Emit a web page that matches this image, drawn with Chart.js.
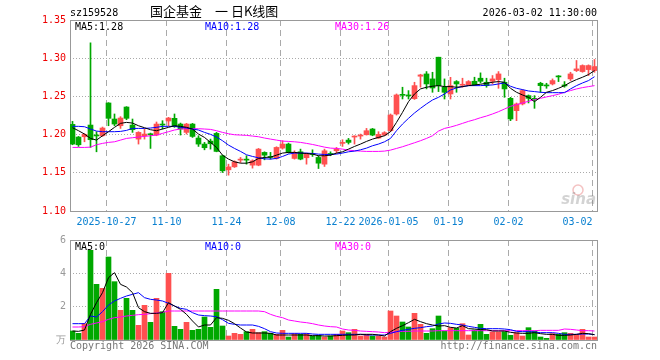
<!DOCTYPE html>
<html>
<head>
<meta charset="utf-8">
<script src="https://cdn.jsdelivr.net/npm/chart.js@4.4.1/dist/chart.umd.min.js"></script>
<style>
  body { margin: 0; background: #fff; }
  #wrap { position: relative; width: 660px; height: 360px; overflow: hidden; font-family: "DejaVu Sans Mono", monospace; }
  canvas { position: absolute; left: 0; }
  #k { top: 0; }
  #v { top: 230px; }
  .t { position: absolute; font-size: 10px; line-height: 10px; white-space: pre; }
</style>
</head>
<body>
<div id="wrap">
  <canvas id="k" width="660" height="230"></canvas>
  <canvas id="v" width="660" height="130"></canvas>

  <div class="t" style="left:70px;top:8px;color:#000">sz159528</div>
  <div class="t" style="left:150px;top:4px;font:13px/13px 'Noto Sans CJK SC';color:#000">国企基金　一 日K线图</div>
  <div class="t" style="right:63px;top:8px;color:#000">2026-03-02 11:30:00</div>

  <div class="t" style="left:75px;top:22px;color:#000">MA5:1.28</div>
  <div class="t" style="left:205px;top:22px;color:#0000ff">MA10:1.28</div>
  <div class="t" style="left:335px;top:22px;color:#ff00ff">MA30:1.26</div>

  <div class="t" style="left:75px;top:242px;color:#000">MA5:0</div>
  <div class="t" style="left:205px;top:242px;color:#0000ff">MA10:0</div>
  <div class="t" style="left:335px;top:242px;color:#ff00ff">MA30:0</div>

  <div class="t" style="left:70px;top:341px;color:#777">Copyright 2026 SINA.COM</div>
  <div class="t" style="right:63px;top:341px;color:#777">http://finance.sina.com.cn</div>
</div>
<script>
const dates = [
  '2025-10-17',
  '2025-10-20','2025-10-21','2025-10-22','2025-10-23','2025-10-24',
  '2025-10-27','2025-10-28','2025-10-29','2025-10-30','2025-10-31',
  '2025-11-03','2025-11-04','2025-11-05','2025-11-06','2025-11-07',
  '2025-11-10','2025-11-11','2025-11-12','2025-11-13','2025-11-14',
  '2025-11-17','2025-11-18','2025-11-19','2025-11-20','2025-11-21',
  '2025-11-24','2025-11-25','2025-11-26','2025-11-27','2025-11-28',
  '2025-12-01','2025-12-02','2025-12-04','2025-12-05',
  '2025-12-08','2025-12-09','2025-12-10','2025-12-11','2025-12-12',
  '2025-12-15','2025-12-16','2025-12-17','2025-12-18','2025-12-19',
  '2025-12-22','2025-12-23','2025-12-24','2025-12-25','2025-12-26',
  '2025-12-29','2025-12-30','2025-12-31',
  '2026-01-05','2026-01-06','2026-01-07','2026-01-08','2026-01-09',
  '2026-01-12','2026-01-13','2026-01-14','2026-01-15','2026-01-16',
  '2026-01-19','2026-01-20','2026-01-21','2026-01-22','2026-01-23',
  '2026-01-26','2026-01-27','2026-01-28','2026-01-29','2026-01-30',
  '2026-02-02','2026-02-03','2026-02-04','2026-02-05','2026-02-06',
  '2026-02-09','2026-02-10','2026-02-11','2026-02-12','2026-02-13',
  '2026-02-24','2026-02-25','2026-02-26','2026-02-27',
  '2026-03-02'
];

const tickDates = ['2025-10-27','2025-11-10','2025-11-24','2025-12-08','2025-12-22','2026-01-05','2026-01-19','2026-02-02','2026-03-02'];
// the last label sits left of its grid line, so it is padded on the right
const tickLabels = ['2025-10-27','11-10','11-24','12-08','12-22','2026-01-05','01-19','02-02','03-02     '];

const open = [
  1.2134,1.1968,1.1972,1.2125,1.1990,1.1985,1.2414,1.2204,1.2116,1.2361,
  1.2125,1.1941,1.1985,1.2007,1.1994,1.2134,1.2178,1.2213,1.2138,1.2029,
  1.2138,1.1955,1.1876,1.1915,1.2016,1.1723,1.1539,1.1578,1.1666,1.1675,
  1.1600,1.1600,1.1767,1.1710,1.1688,1.1823,1.1876,1.1688,1.1775,1.1697,
  1.1749,1.1701,1.1613,1.1749,1.1788,1.1885,1.1928,1.1968,1.1981,1.1998,
  1.2073,1.1955,1.1994,1.2051,1.2270,1.2523,1.2514,1.2470,1.2764,1.2794,
  1.2729,1.3013,1.2620,1.2532,1.2694,1.2646,1.2650,1.2698,1.2738,1.2685,
  1.2698,1.2720,1.2685,1.2475,1.2313,1.2401,1.2510,1.2471,1.2672,1.2646,
  1.2663,1.2764,1.2646,1.2729,1.2838,1.2825,1.2851,1.2838
];
const high = [
  1.2173,1.1976,1.2011,1.3201,1.2038,1.2099,1.2418,1.2270,1.2235,1.2366,
  1.2204,1.2038,1.2073,1.2020,1.2165,1.2182,1.2226,1.2270,1.2151,1.2147,
  1.2147,1.1985,1.1898,1.1941,1.2029,1.1731,1.1613,1.1657,1.1701,1.1723,
  1.1670,1.1819,1.1775,1.1767,1.1841,1.1920,1.1889,1.1788,1.1810,1.1758,
  1.1801,1.1723,1.1810,1.1775,1.1832,1.1933,1.1950,1.1985,1.2007,1.2081,
  1.2081,1.2038,1.2038,1.2270,1.2532,1.2620,1.2576,1.2685,1.2790,1.2825,
  1.2816,1.3013,1.2729,1.2750,1.2707,1.2738,1.2707,1.2751,1.2808,1.2738,
  1.2773,1.2825,1.2738,1.2488,1.2414,1.2589,1.2519,1.2510,1.2685,1.2672,
  1.2729,1.2773,1.2694,1.2816,1.2970,1.2913,1.2913,1.2983
];
const low = [
  1.1867,1.1845,1.1906,1.1832,1.1775,1.1976,1.2116,1.2116,1.2081,1.2195,
  1.2029,1.1876,1.1941,1.1819,1.1985,1.2073,1.2116,1.2095,1.1994,1.2007,
  1.1963,1.1845,1.1801,1.1810,1.1775,1.1504,1.1469,1.1570,1.1635,1.1613,
  1.1561,1.1592,1.1670,1.1679,1.1679,1.1810,1.1758,1.1679,1.1670,1.1613,
  1.1714,1.1556,1.1583,1.1723,1.1758,1.1845,1.1876,1.1876,1.1941,1.1994,
  1.1985,1.1950,1.1985,1.2038,1.2256,1.2466,1.2466,1.2460,1.2620,1.2598,
  1.2554,1.2563,1.2466,1.2466,1.2554,1.2620,1.2641,1.2641,1.2676,1.2620,
  1.2663,1.2606,1.2488,1.2182,1.2182,1.2388,1.2414,1.2344,1.2554,1.2606,
  1.2650,1.2694,1.2620,1.2707,1.2825,1.2816,1.2773,1.2816
];
const close = [
  1.1876,1.1867,1.2003,1.1933,1.1982,1.2086,1.2213,1.2138,1.2217,1.2213,
  1.2064,1.2029,1.2007,1.1998,1.2138,1.2125,1.2217,1.2108,1.2073,1.2138,
  1.1976,1.1876,1.1828,1.1880,1.1780,1.1526,1.1578,1.1644,1.1675,1.1666,
  1.1657,1.1810,1.1731,1.1701,1.1832,1.1876,1.1767,1.1767,1.1679,1.1745,
  1.1740,1.1626,1.1788,1.1740,1.1810,1.1893,1.1898,1.1976,1.1990,1.2051,
  1.1994,1.2003,1.2025,1.2256,1.2519,1.2514,1.2506,1.2641,1.2781,1.2663,
  1.2610,1.2640,1.2554,1.2641,1.2663,1.2655,1.2694,1.2650,1.2698,1.2641,
  1.2729,1.2794,1.2598,1.2204,1.2401,1.2576,1.2475,1.2462,1.2641,1.2637,
  1.2707,1.2755,1.2637,1.2794,1.2860,1.2904,1.2904,1.2891
];

const ma5 = [
  1.2090,1.2051,1.2007,1.1950,1.1928,1.1985,1.2038,1.2095,1.2147,1.2160,
  1.2151,1.2116,1.2090,1.2064,1.2051,1.2073,1.2095,1.2116,1.2108,1.2095,
  1.2073,1.2007,1.1963,1.1898,1.1832,1.1731,1.1679,1.1644,1.1626,1.1626,
  1.1644,1.1688,1.1701,1.1705,1.1731,1.1758,1.1767,1.1767,1.1758,1.1753,
  1.1745,1.1723,1.1723,1.1731,1.1758,1.1775,1.1810,1.1845,1.1876,1.1911,
  1.1941,1.1963,1.1985,1.2038,1.2160,1.2291,1.2431,1.2532,1.2598,1.2620,
  1.2633,1.2641,1.2628,1.2628,1.2620,1.2628,1.2641,1.2650,1.2659,1.2672,
  1.2685,1.2694,1.2685,1.2606,1.2554,1.2519,1.2488,1.2431,1.2488,1.2554,
  1.2576,1.2606,1.2641,1.2685,1.2720,1.2751,1.2786,1.2838
];
const ma10 = [
  1.2108,1.2108,1.2103,1.2073,1.2046,1.2038,1.2038,1.2038,1.2042,1.2055,
  1.2081,1.2081,1.2081,1.2086,1.2095,1.2108,1.2108,1.2108,1.2095,1.2086,
  1.2073,1.2060,1.2029,1.2003,1.1968,1.1920,1.1863,1.1819,1.1780,1.1736,
  1.1714,1.1696,1.1683,1.1679,1.1688,1.1714,1.1745,1.1758,1.1758,1.1758,
  1.1753,1.1745,1.1740,1.1740,1.1745,1.1758,1.1775,1.1784,1.1801,1.1823,
  1.1854,1.1876,1.1906,1.1950,1.2051,1.2138,1.2213,1.2283,1.2344,1.2401,
  1.2453,1.2488,1.2532,1.2584,1.2611,1.2628,1.2641,1.2641,1.2641,1.2646,
  1.2650,1.2663,1.2676,1.2633,1.2606,1.2589,1.2571,1.2563,1.2554,1.2549,
  1.2549,1.2549,1.2549,1.2598,1.2641,1.2676,1.2707,1.2758
];
const ma30 = [
  1.1832,1.1832,1.1832,1.1836,1.1867,1.1885,1.1898,1.1906,1.1928,1.1950,
  1.1959,1.1968,1.1976,1.1985,1.1994,1.2016,1.2038,1.2060,1.2073,1.2077,
  1.2077,1.2077,1.2073,1.2068,1.2051,1.2029,1.2011,1.1998,1.1994,1.1990,
  1.1981,1.1972,1.1955,1.1941,1.1928,1.1915,1.1911,1.1906,1.1898,1.1885,
  1.1871,1.1854,1.1836,1.1823,1.1819,1.1810,1.1797,1.1788,1.1784,1.1780,
  1.1780,1.1780,1.1784,1.1797,1.1819,1.1841,1.1867,1.1893,1.1920,1.1950,
  1.1985,1.2046,1.2081,1.2099,1.2121,1.2147,1.2173,1.2195,1.2221,1.2243,
  1.2270,1.2300,1.2335,1.2370,1.2392,1.2414,1.2436,1.2458,1.2475,1.2493,
  1.2510,1.2528,1.2554,1.2576,1.2598,1.2615,1.2628,1.2641
];

// volume, in 万
const volume = [
  0.54,0.40,0.98,5.38,3.34,3.10,4.98,3.50,1.78,2.50,
  1.78,0.88,2.08,1.06,2.50,1.70,4.00,0.82,0.64,1.06,
  0.58,0.64,1.38,0.76,3.04,0.84,0.24,0.40,0.34,0.50,
  0.64,0.44,0.50,0.40,0.34,0.58,0.18,0.38,0.34,0.38,
  0.24,0.28,0.18,0.24,0.34,0.54,0.44,0.64,0.24,0.34,
  0.24,0.24,0.18,1.74,1.44,1.08,0.78,1.60,0.94,0.40,
  0.68,1.44,0.54,0.74,0.70,0.98,0.30,0.60,0.94,0.34,
  0.48,0.48,0.50,0.28,0.44,0.24,0.74,0.54,0.18,0.10,
  0.38,0.34,0.44,0.40,0.34,0.64,0.18,0.18
];
const vma5 = [
  0.54,0.52,0.60,1.54,2.24,2.84,3.74,4.04,3.34,3.18,
  2.84,1.94,1.70,1.60,1.60,1.64,2.24,2.04,1.84,1.54,
  1.14,0.78,0.90,0.90,1.34,1.30,1.18,0.98,0.72,0.48,
  0.42,0.42,0.42,0.40,0.30,0.30,0.30,0.30,0.30,0.30,
  0.26,0.26,0.24,0.24,0.26,0.28,0.30,0.30,0.34,0.34,
  0.34,0.30,0.24,0.50,0.70,0.86,1.04,1.24,1.10,0.98,
  0.90,0.84,0.86,0.76,0.72,0.86,0.68,0.66,0.62,0.62,
  0.54,0.54,0.54,0.46,0.42,0.40,0.40,0.44,0.38,0.34,
  0.34,0.28,0.28,0.30,0.34,0.40,0.38,0.32
];
const vma10 = [
  0.98,0.98,0.98,1.44,1.38,1.70,2.10,2.34,2.50,2.64,
  2.74,2.84,2.54,2.44,2.40,2.34,2.20,2.04,1.90,1.84,
  1.64,1.50,1.46,1.44,1.40,1.22,1.00,0.94,0.90,0.90,
  0.90,0.82,0.68,0.50,0.42,0.40,0.40,0.40,0.40,0.40,
  0.36,0.34,0.34,0.34,0.34,0.34,0.34,0.34,0.34,0.30,
  0.30,0.30,0.30,0.40,0.50,0.58,0.64,0.70,0.74,0.80,
  0.84,0.96,1.02,1.00,0.94,0.90,0.82,0.76,0.70,0.68,
  0.68,0.68,0.66,0.62,0.52,0.50,0.50,0.48,0.44,0.44,
  0.44,0.40,0.34,0.34,0.34,0.36,0.36,0.32
];
const vma30 = [
  0.78,0.78,0.80,0.94,1.02,1.10,1.24,1.34,1.38,1.44,
  1.48,1.52,1.54,1.58,1.62,1.66,1.74,1.74,1.74,1.74,
  1.74,1.74,1.74,1.74,1.74,1.74,1.74,1.74,1.74,1.74,
  1.74,1.74,1.70,1.54,1.42,1.34,1.20,1.14,1.08,1.04,
  0.98,0.90,0.84,0.80,0.78,0.66,0.60,0.58,0.54,0.52,
  0.50,0.48,0.44,0.46,0.50,0.52,0.52,0.54,0.54,0.54,
  0.54,0.56,0.56,0.56,0.56,0.56,0.56,0.56,0.56,0.56,
  0.56,0.56,0.56,0.56,0.56,0.56,0.56,0.56,0.58,0.58,
  0.58,0.58,0.66,0.64,0.60,0.56,0.56,0.54
];

const UP = '#ff5050';
const DOWN = '#00a800';
const GRID = '#aaaaaa';
const MONO = 'DejaVu Sans Mono';
const GRID_SHIFT = -1 / 3; // date grid lines sit just left of the candle

const candleColors = close.map((c, i) => (c >= open[i] ? UP : DOWN));
const tickPos = tickDates.map(d => dates.indexOf(d) + GRID_SHIFT);
const xy = arr => arr.map((v, i) => ({ x: i, y: v }));

// solid box around the plot area
const framePlugin = {
  id: 'frame',
  beforeDatasetsDraw(chart) {
    const a = chart.chartArea;
    const ctx = chart.ctx;
    ctx.save();
    ctx.strokeStyle = '#999';
    ctx.lineWidth = 1;
    ctx.strokeRect(Math.round(a.left) + 0.5, Math.round(a.top) + 0.5,
      Math.round(a.right - a.left), Math.round(a.bottom - a.top));
    ctx.restore();
  }
};

// faint sina watermark, bottom right of the price panel
const logoPlugin = {
  id: 'logo',
  afterDatasetsDraw(chart) {
    const a = chart.chartArea;
    const ctx = chart.ctx;
    ctx.save();
    ctx.globalAlpha = 0.35;
    ctx.strokeStyle = '#e05050';
    ctx.lineWidth = 1.5;
    ctx.beginPath();
    ctx.arc(a.right - 19, a.bottom - 21, 5, 0, Math.PI * 2);
    ctx.stroke();
    ctx.fillStyle = '#808080';
    ctx.font = 'italic bold 15px "DejaVu Sans"';
    ctx.textAlign = 'right';
    ctx.fillText('sina', a.right - 1, a.bottom - 7);
    ctx.restore();
  }
};

const xScale = (height, showLabels) => ({
  type: 'linear',
  min: -5 / 12,
  max: 87 + 5 / 12,
  offset: false,
  afterBuildTicks: ax => { ax.ticks = tickPos.map(v => ({ value: v })); },
  afterFit: ax => { ax.height = height; },
  grid: { color: GRID, drawTicks: false, offset: false },
  border: { display: false, dash: [6, 4] },
  ticks: {
    display: showLabels,
    autoSkip: false,
    maxRotation: 0,
    padding: 5,
    color: '#0a80d0',
    font: { family: MONO, size: 10 },
    callback: (v, i) => tickLabels[i]
  }
});

const lineSet = (data, color) => ({
  type: 'line',
  data: xy(data),
  borderColor: color,
  borderWidth: 1,
  pointRadius: 0,
  tension: 0,
  order: 0
});

new Chart(document.getElementById('k'), {
  type: 'line',
  data: {
    datasets: [
      lineSet(ma5, '#000000'),
      lineSet(ma10, '#0000ff'),
      lineSet(ma30, '#ff00ff'),
      {
        type: 'bar',
        data: open.map((o, i) => ({ x: i, y: [o, close[i]] })),
        backgroundColor: candleColors,
        barThickness: 5,
        minBarLength: 1,
        grouped: false,
        order: 2
      },
      {
        type: 'bar',
        data: low.map((l, i) => ({ x: i, y: [l, high[i]] })),
        backgroundColor: candleColors,
        barThickness: 1,
        minBarLength: 1,
        grouped: false,
        order: 3
      }
    ]
  },
  options: {
    responsive: false,
    animation: false,
    events: [],
    layout: { padding: { top: 20, right: 63, left: 0, bottom: 0 } },
    plugins: { legend: { display: false }, tooltip: { enabled: false } },
    scales: {
      x: xScale(19, true),
      y: {
        min: 1.10,
        max: 1.35,
        afterFit: ax => { ax.width = 70; },
        grid: { color: GRID, drawTicks: false },
        border: { display: false, dash: [1, 2] },
        ticks: {
          stepSize: 0.05,
          padding: 4,
          color: '#ee0000',
          font: { family: MONO, size: 10 },
          callback: v => v.toFixed(2)
        }
      }
    }
  },
  plugins: [framePlugin, logoPlugin]
});

new Chart(document.getElementById('v'), {
  type: 'line',
  data: {
    datasets: [
      lineSet(vma5, '#000000'),
      lineSet(vma10, '#0000ff'),
      lineSet(vma30, '#ff00ff'),
      {
        type: 'bar',
        data: xy(volume),
        backgroundColor: candleColors,
        barThickness: 5,
        grouped: false,
        order: 2
      }
    ]
  },
  options: {
    responsive: false,
    animation: false,
    events: [],
    layout: { padding: { top: 10, right: 63, left: 0, bottom: 0 } },
    plugins: { legend: { display: false }, tooltip: { enabled: false } },
    scales: {
      x: xScale(20, false),
      y: {
        min: 0,
        max: 6,
        afterFit: ax => { ax.width = 70; },
        grid: { color: GRID, drawTicks: false },
        border: { display: false, dash: [1, 2] },
        ticks: {
          stepSize: 2,
          padding: 4,
          color: '#999',
          font: { family: MONO, size: 10 },
          callback: v => (v === 0 ? '万' : v)
        }
      }
    }
  },
  plugins: [framePlugin]
});
</script>
</body>
</html>
